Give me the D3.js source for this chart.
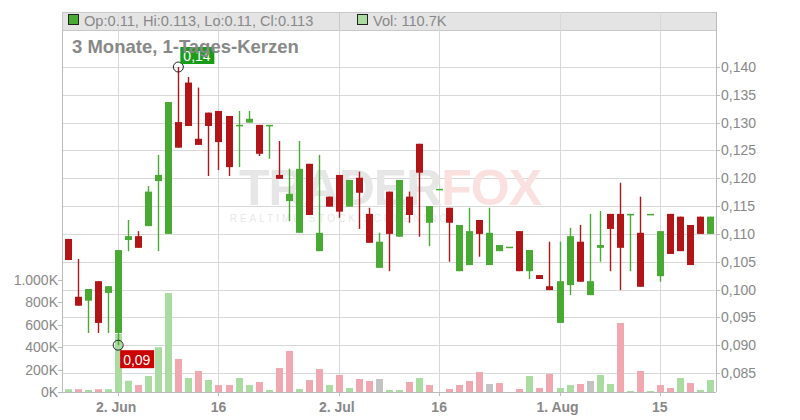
<!DOCTYPE html>
<html><head><meta charset="utf-8">
<script src="https://cdn.jsdelivr.net/npm/d3@7"></script>
<style>body{margin:0;background:#fff}text{font-family:"Liberation Sans",Arial,sans-serif}</style>
</head><body><svg id="c" width="800" height="420"></svg>
<script>
// one candle per trading day, 26 May .. 22 Aug
const opens  = [.1091,.0987,.0980,.1015,.0994,.0922,.1089,.1096,.1114,.1195,.1100,.1301,.1372,.1271,.1318,.1321,.1312,.1296,.1300,.1296,.1296,.1206,.1159,.1102,.1226,.1069,.1167,.1206,.1149,.1201,.1136,.1039,.1176,.1095,.1167,.1262,.1120,.1181,.1147,.1033,.1044,.1125,.1044,.1069,.1077,.1105,.1033,.1026,.1006,.0940,.1008,.1086,.0990,.1075,.1136,.1136,.1136,.1102,.1136,.1024,.1136,.1131,.1116,.1131,.1100];
const closes = [.1053,.0971,.1001,.0940,.1006,.1071,.1096,.1075,.1176,.1206,.1337,.1255,.1294,.1260,.1294,.1265,.1220,.1296,.1307,.1244,.1296,.1199,.1172,.1217,.1134,.1102,.1149,.1140,.1197,.1174,.1084,.1086,.1100,.1197,.1134,.1210,.1150,.1181,.1120,.1116,.1105,.1100,.1102,.1080,.1077,.1033,.1071,.1019,.0999,.1015,.1096,.1014,.1015,.1080,.1109,.1075,.1136,.1005,.1136,.1105,.1064,.1069,.1044,.1100,.1131];
const highs  = [.1091,.1055,.1001,.1015,.1006,.1071,.1125,.1105,.1186,.1242,.1337,.1400,.1382,.1363,.1318,.1321,.1312,.1321,.1321,.1296,.1296,.1267,.1217,.1267,.1226,.1242,.1167,.1206,.1197,.1212,.1147,.1102,.1176,.1197,.1176,.1262,.1150,.1181,.1147,.1116,.1147,.1125,.1147,.1080,.1077,.1105,.1071,.1026,.1086,.1086,.1111,.1116,.1136,.1141,.1136,.1192,.1136,.1167,.1136,.1105,.1136,.1131,.1116,.1131,.1131];
const lows   = [.1053,.0971,.0922,.0922,.0922,.0900,.1069,.1075,.1114,.1069,.1100,.1255,.1294,.1260,.1204,.1215,.1204,.1220,.1300,.1240,.1235,.1199,.1123,.1102,.1134,.1069,.1149,.1129,.1149,.1109,.1084,.1039,.1033,.1095,.1120,.1095,.1078,.1181,.1050,.1033,.1044,.1059,.1044,.1069,.1077,.1033,.1019,.1019,.0999,.0940,.0990,.1014,.0990,.1050,.1033,.0999,.1033,.1005,.1136,.1014,.1064,.1069,.1044,.1100,.1100];
const volumes = [25,25,18,25,25,520,100,62,143,400,884,295,125,188,107,62,62,125,62,89,18,214,366,27,107,205,62,152,36,116,98,116,18,18,89,125,62,0,27,62,98,178,71,80,0,27,143,36,161,36,62,71,98,152,71,616,9,188,9,62,36,125,80,18,107];
const volCols = ["g","r","g","r","g","g","g","r","g","g","g","r","g","r","g","r","r","g","g","r","g","r","r","g","r","r","g","r","g","r","r","n","g","g","r","g","r","g","r","r","r","r","n","r","g","r","g","r","r","g","g","r","n","g","g","r","g","r","g","r","r","g","r","g","g"];
const tickIdx = [5,15,27,37,49,59];
const tickLabels = ["2. Jun","16","2. Jul","16","1. Aug","15"];
const priceTicks = d3.range(0.085, 0.1401, 0.005);
const volTicks = [0,200,400,600,800,1000];

const de = d3.formatLocale({decimal: ",", thousands: ".", grouping: [3], currency: ["", "€"]});
const svg = d3.select("#c");
const L = 62, R = 716, T = 12, B = 392;
const x = d3.scaleLinear().domain([-0.6, 64.6]).range([L, R]);
const y = d3.scaleLinear().domain([0.085, 0.14]).range([373, 67]);
const yv = d3.scaleLinear().domain([0, 1000]).range([B, 280]);
const gridC = "#d8d8d8", txtC = "#888";

// header + grid
svg.append("rect").attr("x", L + 0.5).attr("y", T + 0.5).attr("width", R - L).attr("height", 18)
  .attr("fill", "#e4e4e4").attr("stroke", "#c8c8c8");
svg.append("g").selectAll("line").data(priceTicks).join("line")
  .attr("x1", L).attr("x2", R).attr("y1", d => Math.round(y(d)) + .5).attr("y2", d => Math.round(y(d)) + .5)
  .attr("stroke", gridC);
svg.append("g").selectAll("line").data(tickIdx).join("line")
  .attr("x1", d => Math.round(x(d)) + .5).attr("x2", d => Math.round(x(d)) + .5).attr("y1", T).attr("y2", B)
  .attr("stroke", gridC);
svg.append("line").attr("x1", R + .5).attr("x2", R + .5).attr("y1", T).attr("y2", B).attr("stroke", "#bbb");
svg.append("line").attr("x1", L + .5).attr("x2", L + .5).attr("y1", 30).attr("y2", B).attr("stroke", "#bbb");
svg.append("line").attr("x1", L).attr("x2", R).attr("y1", B + .5).attr("y2", B + .5).attr("stroke", "#bbb");

// watermark
svg.append("text").attr("x", 390).attr("y", 205).attr("text-anchor", "middle").attr("font-size", 50)
  .attr("font-weight", "bold").attr("letter-spacing", -1)
  .html('<tspan fill="#e6e6e6">TRADER</tspan><tspan fill="#fbe0e0">FOX</tspan>');
svg.append("text").attr("x", 340).attr("y", 222).attr("text-anchor", "middle").attr("font-size", 10)
  .attr("letter-spacing", 3).attr("fill", "#e8e8e8").text("REALTIME STOCK SCREENING");

// axes text
svg.append("g").selectAll("text").data(priceTicks).join("text")
  .attr("x", 721).attr("y", d => y(d) + 5).attr("font-size", 14).attr("fill", txtC)
  .text(d => de.format(".3f")(d));
svg.append("g").selectAll("line").data(priceTicks).join("line")
  .attr("x1", R).attr("x2", R + 4).attr("y1", d => Math.round(y(d)) + .5).attr("y2", d => Math.round(y(d)) + .5).attr("stroke", "#bbb");
svg.append("g").selectAll("text").data(volTicks).join("text")
  .attr("x", 58).attr("y", d => yv(d) + 5).attr("text-anchor", "end").attr("font-size", 14).attr("fill", txtC)
  .text(d => de.format(",")(d) + "K");
svg.append("g").selectAll("line").data(volTicks).join("line")
  .attr("x1", L - 4).attr("x2", L).attr("y1", d => Math.round(yv(d)) + .5).attr("y2", d => Math.round(yv(d)) + .5).attr("stroke", "#bbb");
svg.append("g").selectAll("text").data(tickIdx).join("text")
  .attr("x", (d, i) => x(d) - (i % 2 ? 0 : 2)).attr("y", 412).attr("text-anchor", "middle").attr("font-size", 14)
  .attr("font-weight", "bold").attr("fill", txtC).text((d, i) => tickLabels[i]);
svg.append("g").selectAll("line").data(tickIdx).join("line")
  .attr("x1", d => Math.round(x(d)) + .5).attr("x2", d => Math.round(x(d)) + .5).attr("y1", B).attr("y2", B + 4).attr("stroke", "#bbb");

// volume
const vFill = {g: "#aadca2", r: "#f0a7b0", n: "#c2c2c2"};
svg.append("g").selectAll("rect").data(volumes).join("rect")
  .attr("x", (d, i) => Math.round(x(i)) - 3).attr("width", 7)
  .attr("y", d => yv(d)).attr("height", d => B - yv(d)).attr("fill", (d, i) => vFill[volCols[i]]);

// candles
const GREEN = "#48aa33", RED = "#b11517";
const idx = d3.range(opens.length);
const cg = svg.append("g");
cg.selectAll("line").data(idx).join("line")
  .attr("x1", i => Math.round(x(i)) + .5).attr("x2", i => Math.round(x(i)) + .5)
  .attr("y1", i => y(highs[i])).attr("y2", i => y(lows[i]))
  .attr("stroke", i => closes[i] >= opens[i] ? GREEN : RED).attr("stroke-width", 1.4);
cg.selectAll("rect").data(idx).join("rect")
  .attr("x", i => Math.round(x(i)) - 3).attr("width", 7)
  .attr("y", i => y(Math.max(opens[i], closes[i])))
  .attr("height", i => Math.max(1.5, Math.abs(y(opens[i]) - y(closes[i]))))
  .attr("fill", i => closes[i] >= opens[i] ? GREEN : RED);

// high / low markers
const hi = d3.maxIndex(highs), lo = d3.minIndex(lows);
svg.append("circle").attr("cx", x(hi)).attr("cy", y(highs[hi])).attr("r", 5).attr("fill", "none").attr("stroke", "#222");
svg.append("rect").attr("x", x(hi) + 2).attr("y", y(highs[hi]) - 20).attr("width", 34).attr("height", 17).attr("fill", "#1a9c1a");
svg.append("text").attr("x", x(hi) + 5).attr("y", y(highs[hi]) - 6).attr("font-size", 14).attr("fill", "#fff").text("0,14");
svg.append("circle").attr("cx", x(lo)).attr("cy", y(lows[lo])).attr("r", 5).attr("fill", "none").attr("stroke", "#222");
svg.append("rect").attr("x", x(lo) + 2).attr("y", y(lows[lo]) + 5).attr("width", 34).attr("height", 18).attr("fill", "#cc0000");
svg.append("text").attr("x", x(lo) + 5).attr("y", y(lows[lo]) + 20).attr("font-size", 14).attr("fill", "#fff").text("0,09");

// header text
const n = opens.length - 1;
svg.append("rect").attr("x", 68.5).attr("y", 14.5).attr("width", 10).attr("height", 10).attr("fill", GREEN).attr("stroke", "#222");
svg.append("text").attr("x", 84).attr("y", 26).attr("font-size", 14.6).attr("fill", txtC)
  .text(`Op:${d3.format(".3~f")(opens[n])}, Hi:${d3.format(".3~f")(highs[n])}, Lo:${d3.format(".3~f")(lows[n])}, Cl:${d3.format(".3~f")(closes[n])}`);
svg.append("line").attr("x1", 339.5).attr("x2", 339.5).attr("y1", T).attr("y2", 30).attr("stroke", "#c8c8c8");
svg.append("rect").attr("x", 357.5).attr("y", 14.5).attr("width", 10).attr("height", 10).attr("fill", "#aadca2").attr("stroke", "#222");
svg.append("text").attr("x", 373).attr("y", 26).attr("font-size", 14.6).attr("fill", txtC).text("Vol: 110.7K");
svg.append("text").attr("x", 72).attr("y", 53).attr("font-size", 18.5).attr("font-weight", "bold").attr("fill", txtC)
  .text("3 Monate, 1-Tages-Kerzen");
</script></body></html>
